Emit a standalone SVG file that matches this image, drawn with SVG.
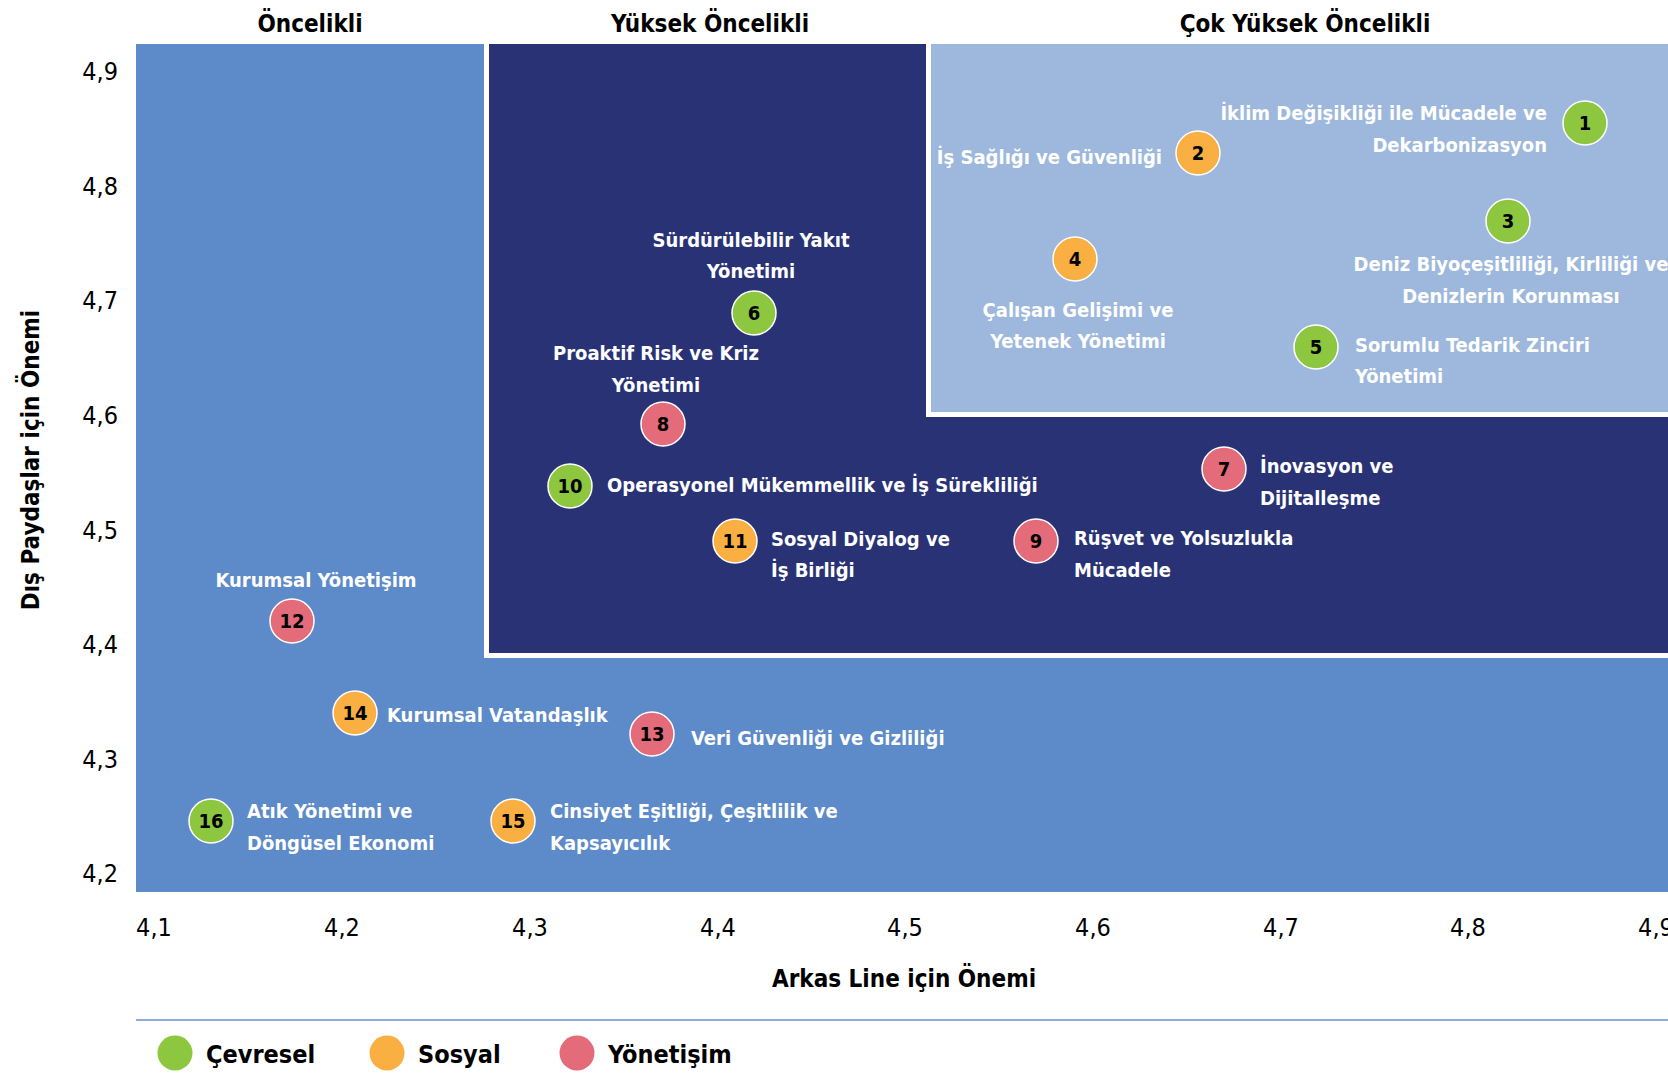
<svg xmlns="http://www.w3.org/2000/svg" width="1668" height="1077" viewBox="0 0 1668 1077">
<style>
text{font-family:"DejaVu Sans Condensed","Liberation Sans Narrow","DejaVu Sans",sans-serif;font-stretch:condensed}
.hdr{font-size:24px;font-weight:bold;fill:#000;text-anchor:middle}
.tick{font-size:25px;fill:#000}
.ax{font-size:24px;font-weight:bold;fill:#000;text-anchor:middle}
.lbl{font-size:20px;font-weight:bold;fill:#fff}
.mid{text-anchor:middle}
.end{text-anchor:end}
.num{font-size:20px;font-weight:bold;fill:#000;text-anchor:middle}
.leg{font-size:25px;font-weight:bold;fill:#000}
.dot{stroke:#fff;stroke-width:1.5}
.env{fill:#8DC63F}
.soc{fill:#F9AF42}
.gov{fill:#E46C7A}
</style>

<g id="zones">
<rect x="136" y="44" width="1532" height="848" fill="#5D8AC8"/>
<rect x="484" y="44" width="1184" height="614" fill="#fff"/>
<rect x="489" y="44" width="1179" height="609" fill="#293275"/>
<rect x="926" y="44" width="742" height="373" fill="#fff"/>
<rect x="931" y="44" width="737" height="368" fill="#9DB8DC"/>
</g>

<g id="headers">
<text class="hdr" x="310" y="32">Öncelikli</text>
<text class="hdr" x="710" y="32">Yüksek Öncelikli</text>
<text class="hdr" x="1305" y="32">Çok Yüksek Öncelikli</text>
</g>

<g id="y-axis">
<text class="tick" x="118" y="80" text-anchor="end">4,9</text>
<text class="tick" x="118" y="195" text-anchor="end">4,8</text>
<text class="tick" x="118" y="309" text-anchor="end">4,7</text>
<text class="tick" x="118" y="424" text-anchor="end">4,6</text>
<text class="tick" x="118" y="539" text-anchor="end">4,5</text>
<text class="tick" x="118" y="653" text-anchor="end">4,4</text>
<text class="tick" x="118" y="768" text-anchor="end">4,3</text>
<text class="tick" x="118" y="882" text-anchor="end">4,2</text>
<text class="ax" transform="translate(39 460) rotate(-90)">Dış Paydaşlar için Önemi</text>
</g>

<g id="x-axis">
<text class="tick" x="154" y="936" text-anchor="middle">4,1</text>
<text class="tick" x="342" y="936" text-anchor="middle">4,2</text>
<text class="tick" x="530" y="936" text-anchor="middle">4,3</text>
<text class="tick" x="718" y="936" text-anchor="middle">4,4</text>
<text class="tick" x="905" y="936" text-anchor="middle">4,5</text>
<text class="tick" x="1093" y="936" text-anchor="middle">4,6</text>
<text class="tick" x="1281" y="936" text-anchor="middle">4,7</text>
<text class="tick" x="1468" y="936" text-anchor="middle">4,8</text>
<text class="tick" x="1656" y="936" text-anchor="middle">4,9</text>
<text class="ax" x="904" y="987">Arkas Line için Önemi</text>
</g>

<g id="connectors"></g>

<g id="n1"><circle class="dot env" cx="1585" cy="123" r="22"/><text class="num" x="1585" y="130">1</text>
<text class="lbl end" x="1547" y="120">İklim Değişikliği ile Mücadele ve</text><text class="lbl end" x="1547" y="152">Dekarbonizasyon</text></g>

<g id="n2"><circle class="dot soc" cx="1198" cy="153" r="22"/><text class="num" x="1198" y="160">2</text>
<text class="lbl end" x="1162" y="164">İş Sağlığı ve Güvenliği</text></g>

<g id="n3"><circle class="dot env" cx="1508" cy="221" r="22"/><text class="num" x="1508" y="228">3</text>
<text class="lbl mid" x="1511" y="271">Deniz Biyoçeşitliliği, Kirliliği ve</text><text class="lbl mid" x="1511" y="303">Denizlerin Korunması</text></g>

<g id="n4"><circle class="dot soc" cx="1075" cy="259" r="22"/><text class="num" x="1075" y="266">4</text>
<text class="lbl mid" x="1078" y="317">Çalışan Gelişimi ve</text><text class="lbl mid" x="1078" y="348">Yetenek Yönetimi</text></g>

<g id="n5"><circle class="dot env" cx="1316" cy="347" r="22"/><text class="num" x="1316" y="354">5</text>
<text class="lbl" x="1355" y="352">Sorumlu Tedarik Zinciri</text><text class="lbl" x="1355" y="383">Yönetimi</text></g>

<g id="n6"><circle class="dot env" cx="754" cy="313" r="22"/><text class="num" x="754" y="320">6</text>
<text class="lbl mid" x="751" y="247">Sürdürülebilir Yakıt</text><text class="lbl mid" x="751" y="278">Yönetimi</text></g>

<g id="n7"><circle class="dot gov" cx="1224" cy="469" r="22"/><text class="num" x="1224" y="476">7</text>
<text class="lbl" x="1260" y="473">İnovasyon ve</text><text class="lbl" x="1260" y="505">Dijitalleşme</text></g>

<g id="n8"><circle class="dot gov" cx="663" cy="424" r="22"/><text class="num" x="663" y="431">8</text>
<text class="lbl mid" x="656" y="360">Proaktif Risk ve Kriz</text><text class="lbl mid" x="656" y="392">Yönetimi</text></g>

<g id="n9"><circle class="dot gov" cx="1036" cy="541" r="22"/><text class="num" x="1036" y="548">9</text>
<text class="lbl" x="1074" y="545">Rüşvet ve Yolsuzlukla</text><text class="lbl" x="1074" y="577">Mücadele</text></g>

<g id="n10"><circle class="dot env" cx="570" cy="486" r="22"/><text class="num" x="570" y="493">10</text>
<text class="lbl" x="607" y="492">Operasyonel Mükemmellik ve İş Sürekliliği</text></g>

<g id="n11"><circle class="dot soc" cx="735" cy="541" r="22"/><text class="num" x="735" y="548">11</text>
<text class="lbl" x="771" y="546">Sosyal Diyalog ve</text><text class="lbl" x="771" y="577">İş Birliği</text></g>

<g id="n12"><circle class="dot gov" cx="292" cy="621" r="22"/><text class="num" x="292" y="628">12</text>
<text class="lbl mid" x="316" y="587">Kurumsal Yönetişim</text></g>

<g id="n13"><circle class="dot gov" cx="652" cy="734" r="22"/><text class="num" x="652" y="741">13</text>
<text class="lbl" x="691" y="745">Veri Güvenliği ve Gizliliği</text></g>

<g id="n14"><circle class="dot soc" cx="355" cy="713" r="22"/><text class="num" x="355" y="720">14</text>
<text class="lbl" x="387" y="722">Kurumsal Vatandaşlık</text></g>

<g id="n15"><circle class="dot soc" cx="513" cy="821" r="22"/><text class="num" x="513" y="828">15</text>
<text class="lbl" x="550" y="818">Cinsiyet Eşitliği, Çeşitlilik ve</text><text class="lbl" x="550" y="850">Kapsayıcılık</text></g>

<g id="n16"><circle class="dot env" cx="211" cy="821" r="22"/><text class="num" x="211" y="828">16</text>
<text class="lbl" x="247" y="818">Atık Yönetimi ve</text><text class="lbl" x="247" y="850">Döngüsel Ekonomi</text></g>

<g id="legend">
<line x1="136" y1="1020" x2="1668" y2="1020" stroke="#8FAADC" stroke-width="2"/>
<circle class="env" cx="175" cy="1053" r="17.5"/><text class="leg" x="206" y="1063">Çevresel</text>
<circle class="soc" cx="387" cy="1053" r="17.5"/><text class="leg" x="418" y="1063">Sosyal</text>
<circle class="gov" cx="577" cy="1053" r="17.5"/><text class="leg" x="608" y="1063">Yönetişim</text>
</g>
</svg>
